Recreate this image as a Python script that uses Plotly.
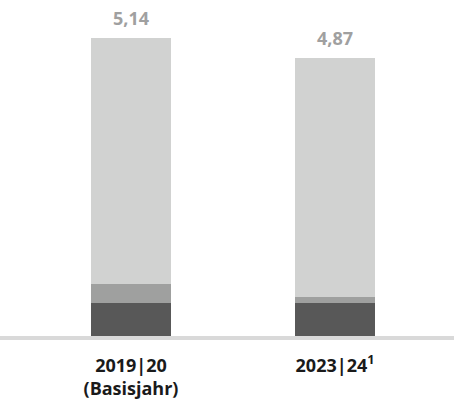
import plotly.graph_objects as go

categories = ["2019|20<br>(Basisjahr)", "2023|24<sup>1</sup>"]
bottom_values = [0.57, 0.57]
middle_values = [0.33, 0.10]
top_values = [4.24, 4.12]
total_labels = ["5,14", "4,87"]

x = list(range(len(categories)))
totals = [b + m + t for b, m, t in zip(bottom_values, middle_values, top_values)]

fig = go.Figure()
for vals, col in [(bottom_values, "#585858"), (middle_values, "#9fa09f"), (top_values, "#d1d2d1")]:
    fig.add_trace(go.Bar(x=x, y=vals, marker=dict(color=col, line=dict(width=0)),
                         width=0.392, hoverinfo="skip"))

for xi, yi, lab in zip(x, totals, total_labels):
    fig.add_annotation(x=xi, y=yi, text=lab, showarrow=False, yanchor="bottom",
                       yshift=6,
                       font=dict(family="Open Sans", size=18, color="#a0a0a0", weight="bold"))

fig.update_layout(
    width=454, height=403,
    barmode="stack",
    showlegend=False,
    plot_bgcolor="white", paper_bgcolor="white",
    margin=dict(l=0, r=0, t=0, b=67),
    xaxis=dict(range=[-131/204, -131/204 + 454/204], tickvals=x, ticktext=categories,
               showgrid=False, zeroline=False, showline=True, linecolor="#d9d9d9", linewidth=4,
               ticks="outside", ticklen=10, tickcolor="rgba(0,0,0,0)", automargin=False,
               tickfont=dict(family="Open Sans", size=18, color="#1a1a1a", weight="bold")),
    yaxis=dict(range=[0, 336/58], visible=False, showgrid=False, zeroline=False),
)

fig.write_html("out.html", config={"displayModeBar": False},
               post_script="document.body.style.margin='0';")
